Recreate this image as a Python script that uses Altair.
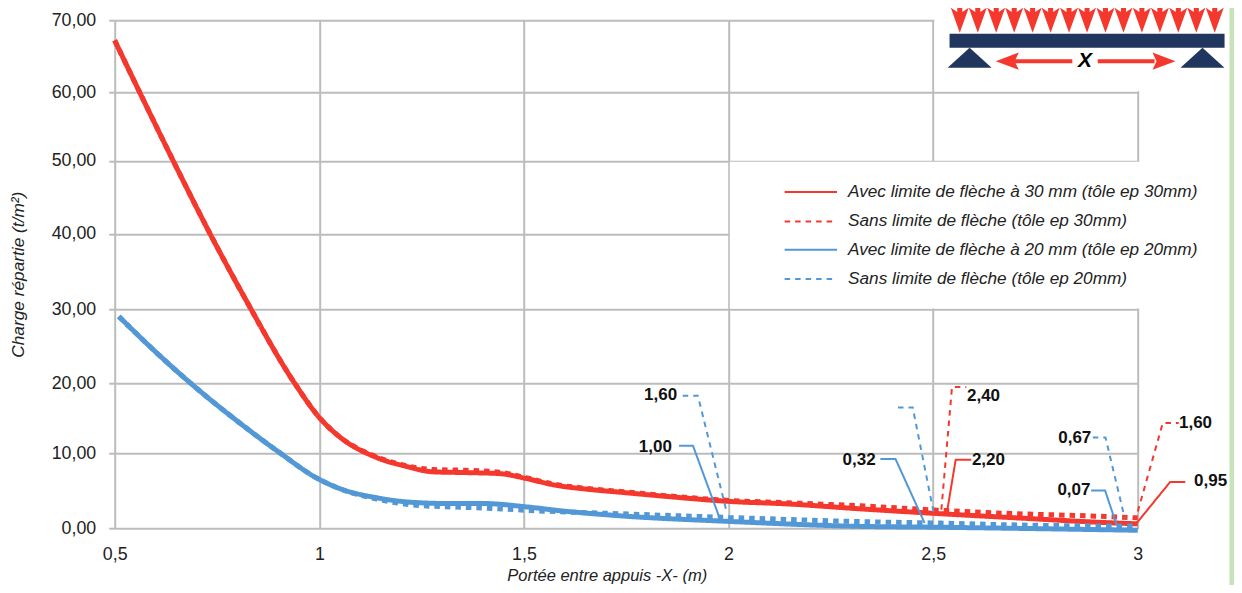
import altair as alt
import pandas as pd

SERIES = ["Avec limite de flèche à 30 mm (tôle ep 30mm)",
          "Sans limite de flèche (tôle ep 30mm)",
          "Avec limite de flèche à 20 mm (tôle ep 20mm)",
          "Sans limite de flèche (tôle ep 20mm)"]
RED, BLUE, NAVY, GRID, GREEN = "#F4382E", "#5398D6", "#20365F", "#BBBDBB", "#C8E3B8"

red_x = [0.5, 0.642, 0.732, 0.818, 0.94, 1.0, 1.05, 1.14, 1.214, 1.278, 1.36, 1.44, 1.507, 1.57, 1.654, 1.735, 1.857, 2.004, 2.143, 2.32, 2.517, 2.713, 2.909, 3.0]
red_y = [67.2, 50.1, 40.1, 31.5, 20.0, 15.1, 12.3, 9.4, 8.2, 7.5, 7.4, 7.27, 6.6, 5.8, 5.2, 4.8, 4.2, 3.57, 3.25, 2.6, 1.95, 1.37, 0.8, 0.6]
red2_x = [0.5, 0.642, 0.732, 0.818, 0.94, 1.0, 1.05, 1.14, 1.214, 1.278, 1.36, 1.44, 1.507, 1.57, 1.654, 1.735, 1.857, 2.004, 2.143, 2.32, 2.517, 2.63, 2.909, 3.0]
red2_y = [67.2, 50.1, 40.1, 31.5, 20.0, 15.1, 12.3, 9.5, 8.3, 7.8, 7.7, 7.45, 6.7, 5.9, 5.3, 4.9, 4.3, 3.7, 3.4, 3.0, 2.4, 2.1, 1.6, 1.4]
blue_x = [0.51, 0.603, 0.69, 0.789, 0.903, 0.993, 1.05, 1.14, 1.229, 1.319, 1.4, 1.507, 1.588, 1.735, 2.0, 2.32, 2.517, 2.713, 3.0]
blue_y = [29.05, 24.1, 19.8, 15.07, 10.05, 6.7, 5.27, 4.07, 3.45, 3.3, 3.3, 2.85, 2.35, 1.67, 0.93, 0.27, 0.15, 0.0, -0.25]
blue2_x = [0.51, 0.603, 0.69, 0.789, 0.903, 0.993, 1.05, 1.14, 1.23, 1.32, 1.4, 1.507, 1.59, 1.735, 1.86, 2.0, 2.32, 2.517, 2.71, 3.0]
blue2_y = [29.05, 24.1, 19.8, 15.07, 10.05, 6.7, 5.27, 3.9, 3.1, 2.85, 2.7, 2.4, 2.2, 1.95, 1.7, 1.45, 0.9, 0.7, 0.45, 0.3]

leaders = [
    (3, [1.888, 1.925, 1.994], [18.23, 18.23, 2.48]),
    (2, [1.879, 1.913, 1.978], [11.05, 11.05, 1.38]),
    (3, [2.414, 2.450, 2.503], [16.55, 16.55, 1.59]),
    (2, [2.371, 2.408, 2.479], [9.2, 9.2, 0.72]),
    (1, [2.520, 2.546, 2.581], [2.48, 19.48, 19.48]),
    (0, [2.534, 2.555, 2.593], [2.25, 9.11, 9.11]),
    (3, [2.890, 2.921, 2.968], [12.24, 12.24, 1.38]),
    (2, [2.886, 2.920, 2.948], [5.04, 5.04, 0.49]),
    (1, [3.0, 3.061, 3.100], [2.25, 14.3, 14.3]),
    (0, [2.996, 3.079, 3.116], [0.62, 6.15, 6.15]),
]
label_text = ["1,60", "1,00", "0,32", "2,40", "2,20", "0,67", "0,07", "1,60", "0,95"]
label_x = [1.834, 1.821, 2.319, 2.623, 2.635, 2.846, 2.844, 3.141, 3.178]
label_y = [18.3, 10.83, 9.11, 18.2, 9.11, 12.2, 5.13, 14.34, 6.33]

key_y = [45.71, 41.68, 37.89, 34.0]
key_x, key_x2, key_text_x = [2.137] * 4, [2.265] * 4, [2.292] * 4

load_x = [2.565, 2.609, 2.654, 2.698, 2.743, 2.787, 2.832, 2.876, 2.921, 2.965, 3.010, 3.054, 3.099, 3.143, 3.188]
support_x = [2.589, 3.158]

y_ticks = [0, 10, 20, 30, 40, 50, 60, 70]
y_pixels = [508.2, 432.8, 363.2, 289.2, 213.5, 140.5, 72.2, 0]
x_ticks = [0.5, 1, 1.5, 2, 2.5, 3]

FONT = "Liberation Sans"
xs = alt.Scale(domain=[0.5, 3], range=[0, 1023.1], nice=False, zero=False)
ys = alt.Scale(domain=y_ticks, range=y_pixels, nice=False, zero=False)
xa = alt.Axis(values=x_ticks, title="Portée entre appuis -X- (m)", grid=True, gridColor=GRID, gridWidth=2,
              domain=False, ticks=False, labelFont=FONT, labelFontSize=17.8, labelColor="#222222", labelPadding=17,
              labelExpr="replace(format(datum.value,'~g'),'.',',')", labelFlush=False, labelOverlap=False,
              titleFont=FONT, titleFontSize=16.5, titleFontStyle="italic", titleFontWeight="normal", titleColor="#222222",
              titleX=492, titleY=47.5, titleBaseline="middle", titleAnchor="middle", titleAlign="center")
ya = alt.Axis(values=y_ticks, title="Charge répartie (t/m²)", grid=True, gridColor=GRID, gridWidth=2,
              domain=False, ticks=True, tickColor=GRID, tickWidth=2, tickSize=6, labelPadding=13,
              labelFont=FONT, labelFontSize=17.8, labelColor="#222222",
              labelExpr="replace(format(datum.value,'.2f'),'.',',')", labelOverlap=False,
              titleFont=FONT, titleFontSize=17.3, titleFontStyle="italic", titleFontWeight="normal", titleColor="#222222",
              titleX=-96, titleY=254, titleBaseline="middle", titleAnchor="middle", titleAlign="center")

X = lambda f: alt.X(f, type="quantitative", scale=xs, axis=xa)
Y = lambda f: alt.Y(f, type="quantitative", scale=ys, axis=ya)
dash = [[1, 0], [5.5, 5], [1, 0], [5.5, 5]]
color_scale = alt.Scale(domain=SERIES, range=[RED, RED, BLUE, BLUE])
dash_scale = alt.Scale(domain=SERIES, range=dash)

rows = []
for i, (xv, yv) in enumerate([(red_x, red_y), (red2_x, red2_y), (blue_x, blue_y), (blue2_x, blue2_y)]):
    rows += [{"x": a, "y": b, "s": SERIES[i]} for a, b in zip(xv, yv)]
lines_df = pd.DataFrame(rows)
rows = []
for k, (si, xv, yv) in enumerate(leaders):
    rows += [{"x": a, "y": b, "s": SERIES[si], "k": k} for a, b in zip(xv, yv)]
lead_df = pd.DataFrame(rows)
key_df = pd.DataFrame({"x": key_x, "x2": key_x2, "tx": key_text_x, "y": key_y, "s": SERIES})

def color():
    return alt.Color("s:N", scale=color_scale, legend=None)
def sdash():
    return alt.StrokeDash("s:N", scale=dash_scale, legend=None)

masks = pd.DataFrame({"x": [2.003, 2.503], "x2": [3.25, 3.26], "y": [30.13, 60.15], "y2": [49.86, 72]})
mask = alt.Chart(masks).mark_rect(color="white", opacity=1).encode(X("x"), x2="x2", y=Y("y"), y2="y2")

curves = alt.Chart(lines_df).mark_line(strokeWidth=5, interpolate="monotone", strokeCap="butt", clip=False).encode(
    X("x"), Y("y"), color=color(), strokeDash=sdash(), detail="s:N", order="x:Q")
leads = alt.Chart(lead_df).mark_line(strokeWidth=2).encode(
    X("x"), Y("y"), color=color(), strokeDash=sdash(), detail="k:N", order=alt.value(0))
labels = alt.Chart(pd.DataFrame({"x": label_x, "y": label_y, "t": label_text})).mark_text(
    font=FONT, fontSize=17, fontWeight="bold", color="#111111", align="center", baseline="middle").encode(
    X("x"), Y("y"), text="t:N")
key_lines = alt.Chart(key_df).mark_rule(strokeWidth=2).encode(
    X("x"), x2="x2", y=Y("y"), color=color(), strokeDash=sdash())
key_text = alt.Chart(key_df).mark_text(
    font=FONT, fontSize=17.2, fontStyle="italic", color="#222222", align="left", baseline="middle").encode(
    X("tx"), Y("y"), text="s:N")

beam = alt.Chart(pd.DataFrame({"x": [2.540], "x2": [3.212], "y": [66.19], "y2": [68.13]})).mark_rect(color=NAVY).encode(
    X("x"), x2="x2", y=Y("y"), y2="y2")
supports = alt.Chart(pd.DataFrame({"x": support_x, "y": [64.8, 64.8]})).mark_point(
    shape="M-1,0.45L0,-0.45L1,0.45Z", filled=True, size=1936, color=NAVY, opacity=1, stroke=None).encode(X("x"), Y("y"))
loads = alt.Chart(pd.DataFrame({"x": load_x, "y": [70] * len(load_x)})).mark_point(
    shape="M-1,-1.39L-0.28,-0.9L-0.28,-2.3L0.28,-2.3L0.28,-0.9L1,-1.39L0,1.39Z", filled=True, size=324, color=RED, opacity=1, stroke=None).encode(X("x"), Y("y"))
shafts = alt.Chart(pd.DataFrame({"x": [2.699, 2.902], "x2": [2.840, 3.041], "y": [64.32, 64.32]})).mark_rule(
    color=RED, strokeWidth=4).encode(X("x"), x2="x2", y=Y("y"))
head_l = alt.Chart(pd.DataFrame({"x": [2.681], "y": [64.32]})).mark_point(
    shape="M-1,0L1,-0.75L0.65,0L1,0.75Z", filled=True, size=529, color=RED, opacity=1, stroke=None).encode(X("x"), Y("y"))
head_r = alt.Chart(pd.DataFrame({"x": [3.064], "y": [64.32]})).mark_point(
    shape="M1,0L-1,-0.75L-0.65,0L-1,0.75Z", filled=True, size=529, color=RED, opacity=1, stroke=None).encode(X("x"), Y("y"))
xmark = alt.Chart(pd.DataFrame({"x": [2.871], "y": [64.32], "t": ["X"]})).mark_text(
    font=FONT, fontSize=21, fontWeight="bold", fontStyle="italic", color="black", baseline="middle", align="center").encode(
    X("x"), Y("y"), text="t:N")
bar = alt.Chart(pd.DataFrame({"x": [3.224], "x2": [3.24], "y": [-7.5], "y2": [72]})).mark_rect(color=GREEN).encode(
    X("x"), x2="x2", y=Y("y"), y2="y2")

chart = alt.layer(mask, curves, leads, labels, key_lines, key_text, beam, supports, loads, shafts, head_l, head_r, xmark, bar).properties(
    width=1023.1, height=508.2,
    padding={"left": 106.7, "top": 12.2, "right": 96.2, "bottom": 56.6},
    autosize=alt.AutoSizeParams(type="none"),
).configure_view(stroke=None).resolve_scale(color="shared", strokeDash="shared")

chart.save("out.html", embed_options={"renderer": "svg", "actions": False})
